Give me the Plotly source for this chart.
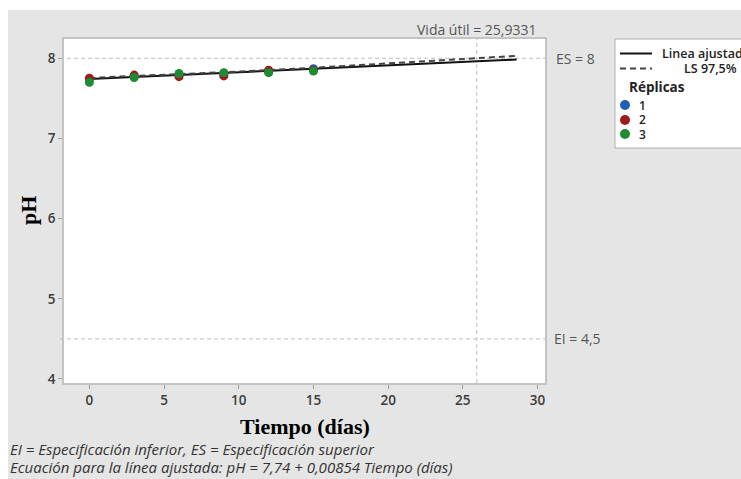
import plotly.graph_objects as go

# ---------------- data ----------------
tiempo = [0, 3, 6, 9, 12, 15]
rep1 = [7.74, 7.77, 7.79, 7.80, 7.83, 7.87]
rep2 = [7.75, 7.79, 7.77, 7.78, 7.85, 7.85]
rep3 = [7.70, 7.76, 7.81, 7.82, 7.82, 7.84]
replicas = ["1", "2", "3"]
rep_colors = ["#1f5fb4", "#9b1c1c", "#1e8a32"]

intercepto = 7.74
pendiente = 0.00854
t_linea = [0, 28.6]

t_ls = [0, 5, 10, 15, 20, 25, 28.6]
ls_975 = [7.755, 7.792, 7.834, 7.881, 7.935, 7.990, 8.030]

es_val = 8
ei_val = 4.5
vida_util = 25.9331

x_ticks = [0, 5, 10, 15, 20, 25, 30]
y_ticks = [4, 5, 6, 7, 8]

# ---------------- layout geometry (pixels) ----------------
W, H = 741, 479
L, R, T, B = 64, 545, 39, 383
PW, PH = R - L, B - T


def px(x):
    return (x - L) / PW


def py(y):
    return (B - y) / PH


fig = go.Figure()

ajuste = [intercepto + pendiente * t for t in t_linea]
fig.add_trace(go.Scatter(x=t_linea, y=ajuste, mode="lines",
                         line=dict(color="#111111", width=2), showlegend=False))
fig.add_trace(go.Scatter(x=t_ls, y=ls_975, mode="lines",
                         line=dict(color="#444444", width=2, dash="6px,4px"),
                         showlegend=False))
for name, vals, col in zip(replicas, [rep1, rep2, rep3], rep_colors):
    fig.add_trace(go.Scatter(x=tiempo, y=vals, mode="markers", name=name,
                             marker=dict(color=col, size=9), showlegend=False))

shapes = []
# white strips around grey background
shapes.append(dict(type="rect", xref="paper", yref="paper", x0=px(0), x1=px(W),
                   y0=py(10), y1=py(0), fillcolor="white", line_width=0, layer="below"))
shapes.append(dict(type="rect", xref="paper", yref="paper", x0=px(0), x1=px(8),
                   y0=py(H), y1=py(0), fillcolor="white", line_width=0, layer="below"))
# reference lines
for v in [es_val, ei_val]:
    shapes.append(dict(type="line", xref="paper", yref="y", x0=px(60), x1=px(550),
                       y0=v, y1=v, line=dict(color="#bdbdbd", width=1, dash="4px,3px"),
                       layer="below"))
shapes.append(dict(type="line", xref="x", yref="paper", x0=vida_util, x1=vida_util,
                   y0=0, y1=1, line=dict(color="#bdbdbd", width=1, dash="4px,3px"),
                   layer="below"))
# legend box
shapes.append(dict(type="rect", xref="paper", yref="paper", x0=px(615), x1=px(748),
                   y0=py(148), y1=py(39), fillcolor="white",
                   line=dict(color="#b0b0b0", width=1)))
shapes.append(dict(type="line", xref="paper", yref="paper", x0=px(620), x1=px(652),
                   y0=py(53.5), y1=py(53.5), line=dict(color="#111111", width=2)))
shapes.append(dict(type="line", xref="paper", yref="paper", x0=px(620), x1=px(652),
                   y0=py(68.5), y1=py(68.5),
                   line=dict(color="#444444", width=2, dash="6px,4px")))
leg_y = [105, 120, 134]
for col, yy in zip(rep_colors, leg_y):
    shapes.append(dict(type="circle", xref="paper", yref="paper",
                       xsizemode="pixel", ysizemode="pixel",
                       xanchor=px(625), yanchor=py(yy), x0=-5, x1=5, y0=-5, y1=5,
                       fillcolor=col, line_width=0))

lab_font = dict(family="Open Sans", size=14, color="#555555")
leg_font = dict(family="Open Sans", size=12.5, color="#222222", weight=600)
num_font = dict(family="Open Sans", size=12, color="#222222", weight=600)
ann = []
ann.append(dict(text="Vida útil = 25,9331", x=vida_util, xref="x", y=py(30), yref="paper",
                showarrow=False, xanchor="center", yanchor="middle", font=lab_font))
ann.append(dict(text="ES = 8", x=px(554), xref="paper", y=es_val, yref="y",
                showarrow=False, xanchor="left", yanchor="middle", font=lab_font))
ann.append(dict(text="EI = 4,5", x=px(552), xref="paper", y=ei_val, yref="y",
                showarrow=False, xanchor="left", yanchor="middle", font=lab_font))
ann.append(dict(text="Linea ajustada", x=px(661), xref="paper", y=py(53.5), yref="paper",
                showarrow=False, xanchor="left", yanchor="middle", font=leg_font,
                borderpad=0))
ann.append(dict(text="LS 97,5%", x=px(738), xref="paper", y=py(68.5), yref="paper",
                showarrow=False, xanchor="right", yanchor="middle", font=leg_font,
                borderpad=0))
ann.append(dict(text="<b>Réplicas</b>", x=px(628), xref="paper", y=py(87), yref="paper",
                showarrow=False, xanchor="left", yanchor="middle", borderpad=0,
                font=dict(family="Open Sans", size=13.5, color="#222222")))
for name, yy in zip(replicas, leg_y):
    ann.append(dict(text=name, x=px(638), xref="paper", y=py(yy), yref="paper",
                    showarrow=False, xanchor="left", yanchor="middle", font=num_font,
                    borderpad=0))
# axis titles
ann.append(dict(text="<b>Tiempo (días)</b>", x=0.5, xref="paper", y=py(426), yref="paper",
                showarrow=False, xanchor="center", yanchor="middle",
                font=dict(family="Liberation Serif", size=22, color="#000000")))
ann.append(dict(text="<b>pH</b>", x=px(28), xref="paper", y=0.5, yref="paper",
                showarrow=False, xanchor="center", yanchor="middle", textangle=-90,
                font=dict(family="Liberation Serif", size=22, color="#000000")))
# footnotes
foot_font = dict(family="Open Sans", size=15, color="#333333", style="italic")
ann.append(dict(text="EI = Especificación inferior, ES = Especificación superior",
                x=px(9), xref="paper", y=py(449), yref="paper", showarrow=False,
                xanchor="left", yanchor="middle", font=foot_font, borderpad=0))
ann.append(dict(text="Ecuación para la línea ajustada: pH = 7,74 + 0,00854 Tiempo (días)",
                x=px(9), xref="paper", y=py(467), yref="paper", showarrow=False,
                xanchor="left", yanchor="middle", font=foot_font, borderpad=0))

axis_common = dict(showgrid=False, zeroline=False, showline=True, mirror=True,
                   linecolor="#c4c4c4", linewidth=1.5, ticks="outside", ticklen=4,
                   tickcolor="#a0a0a0",
                   tickfont=dict(family="Open Sans", size=13.5, color="#3c3c3c", weight=600))

fig.update_layout(
    width=W, height=H,
    margin=dict(l=L, r=W - R, t=T, b=H - B, autoexpand=False),
    paper_bgcolor="#e5e5e5", plot_bgcolor="white",
    xaxis=dict(range=[-1.7, 30.5], tickvals=x_ticks, **axis_common),
    yaxis=dict(range=[3.95, 8.24], tickvals=y_ticks, **axis_common),
    shapes=shapes, annotations=ann, showlegend=False,
)

fig.write_html("out.html")
